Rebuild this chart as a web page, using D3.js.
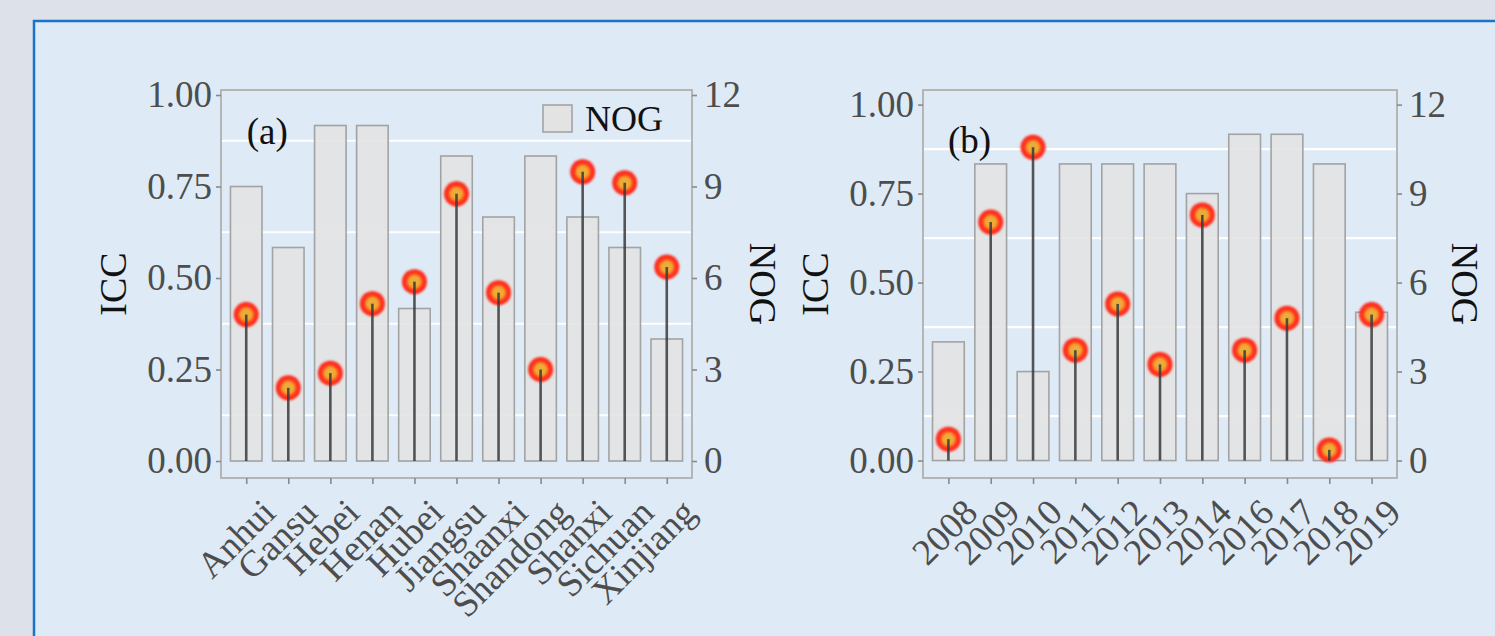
<!DOCTYPE html>
<html>
<head>
<meta charset="utf-8">
<script src="https://cdn.jsdelivr.net/npm/d3@7"></script>
<style>
  html, body { margin: 0; padding: 0; background: #dde2ea; }
  svg { display: block; }
</style>
</head>
<body>
<svg id="chart" width="1495" height="636"></svg>
<script>
// Panel (a): provinces
const provinces = ["Anhui", "Gansu", "Hebei", "Henan", "Hubei", "Jiangsu", "Shaanxi", "Shandong", "Shanxi", "Sichuan", "Xinjiang"];
const provinceNOG = [9, 7, 11, 11, 5, 10, 8, 10, 8, 7, 4];
const provinceICC = [0.40, 0.20, 0.24, 0.43, 0.49, 0.73, 0.46, 0.25, 0.79, 0.76, 0.53];

// Panel (b): years
const years = ["2008", "2009", "2010", "2011", "2012", "2013", "2014", "2016", "2017", "2018", "2019"];
const yearNOG = [4, 10, 3, 10, 10, 10, 9, 11, 11, 10, 5];
const yearICC = [0.06, 0.67, 0.88, 0.31, 0.44, 0.27, 0.69, 0.31, 0.40, 0.03, 0.41];

// Axis ticks
const iccTicks = [0, 0.25, 0.5, 0.75, 1];
const iccGrid = [0.125, 0.375, 0.625, 0.875];
const nogTicks = [0, 3, 6, 9, 12];
const NOG_MAX = 12;

const svg = d3.select("#chart");
const FONT = "'Liberation Serif', 'Times New Roman', serif";
const TXT = "#4d4d4d";

// Outer framed card
svg.append("rect").attr("x", 0).attr("y", 0).attr("width", 1495).attr("height", 636).attr("fill", "#dde2ea");
svg.append("rect").attr("x", 34).attr("y", 21).attr("width", 1470).attr("height", 640)
  .attr("fill", "#deeaf6").attr("stroke", "#1a74c9").attr("stroke-width", 2.5);

const defs = svg.append("defs");
const grad = defs.append("radialGradient").attr("id", "dotFill");
grad.append("stop").attr("offset", "0%").attr("stop-color", "#e2b23c");
grad.append("stop").attr("offset", "45%").attr("stop-color", "#f2a932");
grad.append("stop").attr("offset", "62%").attr("stop-color", "#ff3d22");
grad.append("stop").attr("offset", "100%").attr("stop-color", "#ff2418");
const soft = defs.append("filter").attr("id", "soft").attr("x", "-30%").attr("y", "-30%").attr("width", "160%").attr("height", "160%");
soft.append("feGaussianBlur").attr("stdDeviation", 0.9);

function drawPanel(opts) {
  const { left, right, top, bottom, y0, y1, cats, nog, icc, tag, legend, iccTitleX, nogTitleX } = opts;
  const g = svg.append("g");

  const x = d3.scalePoint().domain(cats).range([left, right]).padding(0.6);
  const step = x.step();
  const y = d3.scaleLinear().domain([y0, y1]).range([bottom, top]);
  const yN = d3.scaleLinear().domain([y0 * NOG_MAX, y1 * NOG_MAX]).range([bottom, top]);

  // white grid lines
  g.selectAll("line.grid").data(iccGrid).join("line")
    .attr("x1", left).attr("x2", right)
    .attr("y1", d => y(d)).attr("y2", d => y(d))
    .attr("stroke", "#ffffff").attr("stroke-width", 2.2);

  // NOG bars
  const bw = step * 0.75;
  g.selectAll("rect.bar").data(cats).join("rect")
    .attr("x", d => x(d) - bw / 2)
    .attr("width", bw)
    .attr("y", (d, i) => yN(nog[i]))
    .attr("height", (d, i) => yN(0) - yN(nog[i]))
    .attr("fill", "#e3e3e3").attr("fill-opacity", 0.88)
    .attr("stroke", "#a3a3a3").attr("stroke-width", 1.6);

  // ICC lollipops
  g.selectAll("circle.dot").data(cats).join("circle")
    .attr("cx", d => x(d))
    .attr("cy", (d, i) => y(icc[i]))
    .attr("r", 12.5)
    .attr("fill", "url(#dotFill)")
    .attr("filter", "url(#soft)");
  g.selectAll("line.stem").data(cats).join("line")
    .attr("x1", d => x(d)).attr("x2", d => x(d))
    .attr("y1", y(0)).attr("y2", (d, i) => y(icc[i]))
    .attr("stroke", "#3a3a3a").attr("stroke-width", 2.6).attr("stroke-opacity", 0.85);

  // panel border
  g.append("rect").attr("x", left).attr("y", top)
    .attr("width", right - left).attr("height", bottom - top)
    .attr("fill", "none").attr("stroke", "#b5b5b5").attr("stroke-width", 2);

  // axes
  const styleAxis = sel => {
    sel.select(".domain").remove();
    sel.selectAll(".tick line").attr("stroke", "#8a8a8a").attr("stroke-width", 1.6);
    sel.selectAll(".tick text").attr("fill", TXT).style("font-family", FONT).style("font-size", "37px");
  };
  g.append("g").attr("transform", `translate(${left},0)`)
    .call(d3.axisLeft(y).tickValues(iccTicks).tickFormat(d3.format(".2f")).tickSize(5).tickPadding(4))
    .call(styleAxis);
  g.append("g").attr("transform", `translate(${right},0)`)
    .call(d3.axisRight(yN).tickValues(nogTicks).tickFormat(d3.format("d")).tickSize(5).tickPadding(7))
    .call(styleAxis);
  const xa = g.append("g").attr("transform", `translate(0,${bottom})`)
    .call(d3.axisBottom(x).tickSize(6).tickPadding(0))
    .call(styleAxis);
  xa.selectAll(".tick text")
    .attr("text-anchor", "end")
    .attr("dy", null).attr("y", null)
    .attr("transform", "translate(12,18) rotate(-45)")
    .attr("dominant-baseline", "hanging")
    .style("font-size", "37px");

  // axis titles
  const midY = (top + bottom) / 2;
  g.append("text").attr("transform", `translate(${iccTitleX},${midY}) rotate(-90)`)
    .attr("text-anchor", "middle").attr("dominant-baseline", "central")
    .attr("fill", "#111").style("font-family", FONT).style("font-size", "38px").text("ICC");
  g.append("text").attr("transform", `translate(${nogTitleX},${midY}) rotate(90)`)
    .attr("text-anchor", "middle").attr("dominant-baseline", "central")
    .attr("fill", "#111").style("font-family", FONT).style("font-size", "38px").text("NOG");

  // panel tag
  g.append("text")
    .attr("x", (x(cats[0]) + x(cats[1])) / 2).attr("y", y(0.9))
    .attr("text-anchor", "middle").attr("dominant-baseline", "central")
    .attr("fill", "#111").style("font-family", FONT).style("font-size", "37px").text(tag);

  if (legend) {
    g.append("rect").attr("x", 543).attr("y", 105).attr("width", 29).attr("height", 27)
      .attr("fill", "#e3e3e3").attr("stroke", "#a3a3a3").attr("stroke-width", 1.6);
    g.append("text").attr("x", 585).attr("y", 119).attr("dominant-baseline", "central")
      .attr("fill", "#111").style("font-family", FONT).style("font-size", "36px").text("NOG");
  }
}

drawPanel({
  left: 221, right: 692, top: 90, bottom: 478, y0: -0.0464, y1: 1.0137,
  cats: provinces, nog: provinceNOG, icc: provinceICC, tag: "(a)", legend: true,
  iccTitleX: 113, nogTitleX: 763
});
drawPanel({
  left: 923, right: 1397, top: 90, bottom: 478, y0: -0.049, y1: 1.041,
  cats: years, nog: yearNOG, icc: yearICC, tag: "(b)", legend: false,
  iccTitleX: 815, nogTitleX: 1465
});
</script>
</body>
</html>
